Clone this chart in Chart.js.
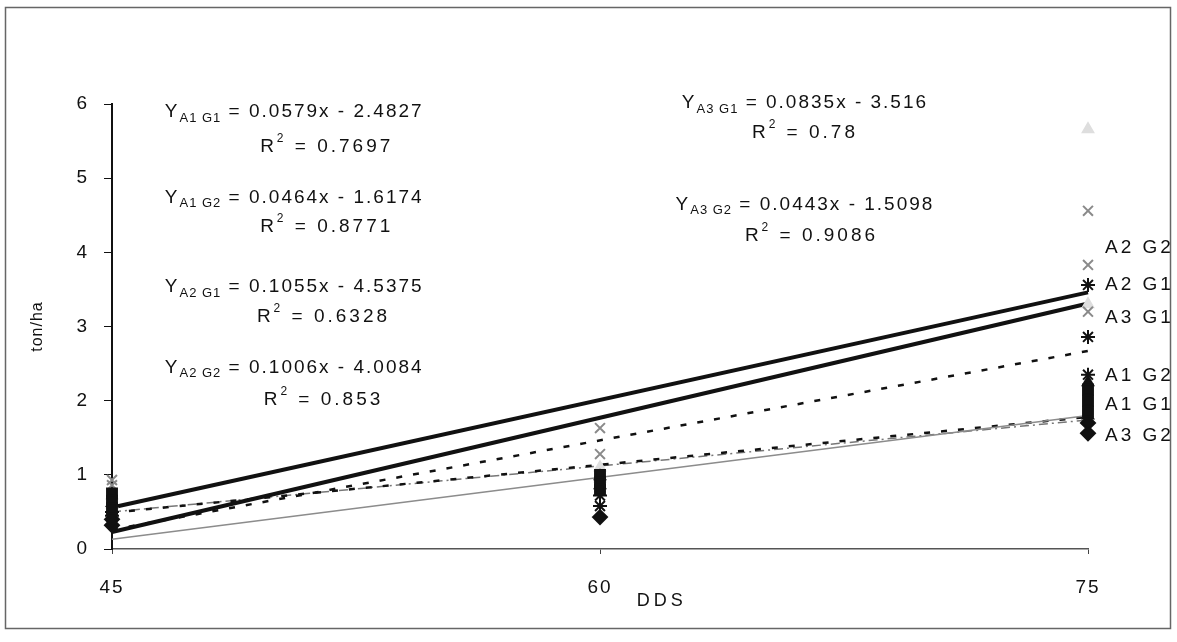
<!DOCTYPE html>
<html>
<head>
<meta charset="utf-8">
<script src="https://cdn.jsdelivr.net/npm/chart.js@4"></script>
<style>
  html, body { margin: 0; padding: 0; background: #fff; }
  #wrap { width: 1177px; height: 642px; }
</style>
</head>
<body>
<div id="wrap"><canvas id="grafico"></canvas></div>
<script>
// dias despues de siembra y rendimientos (ton/ha)
const days = [45, 60, 75];
const xTicks = [45, 60, 75];
const yTicks = [0, 1, 2, 3, 4, 5, 6];

const seriesNames = ['A1 G1', 'A1 G2', 'A2 G1', 'A2 G2', 'A3 G1', 'A3 G2'];

// observaciones por dia (45, 60, 75)
const a1g1 = [[0.75, 0.65, 0.55], [1.00, 0.90, 0.80], [2.15, 2.00, 1.85]];
const a1g2 = [[0.62, 0.50], [0.98, 0.86], [2.25, 1.80]];
const a2g1 = [[0.50, 0.45], [0.72, 0.58], [3.56, 2.86, 2.35]];
const a2g2 = [[0.93, 0.86], [1.63, 1.28], [4.56, 3.83, 3.20]];
const a3g1 = [[0.72, 0.60], [1.10, 0.95], [5.66, 3.30]];
const a3g2 = [[0.32, 0.40], [0.43], [1.56, 1.70]];

// lineas de tendencia: valor en 45 y en 75
const trendStart = [0.13, 0.49, 0.23, 0.56, 0.26, 0.50];
const trendEnd = [1.80, 1.78, 3.31, 3.46, 2.67, 1.74];

// ecuaciones
const slopes = ['0.0579', '0.0464', '0.1055', '0.1006', '0.0835', '0.0443'];
const intercepts = ['2.4827', '1.6174', '4.5375', '4.0084', '3.516', '1.5098'];
const rSquared = ['0.7697', '0.8771', '0.6328', '0.853', '0.78', '0.9086'];

// posicion de los textos (en unidades del grafico)
const eqAnchor = [[50.6, 5.89], [50.6, 4.74], [50.6, 3.53], [50.6, 2.45], [66.3, 6.01], [66.3, 4.64]];
const r2Anchor = [[51.6, 5.42], [51.6, 4.34], [51.5, 3.13], [51.5, 2.01], [66.3, 5.61], [66.5, 4.23]];
const labelY = [1.95, 2.34, 3.56, 4.06, 3.12, 1.53];

const allSeries = [a1g1, a1g2, a2g1, a2g2, a3g1, a3g2];
const markers = ['rect', 'triangle', 'star', 'crossRot', 'triangle', 'rectRot'];
const markerColors = ['#111', '#111', '#111', '#8a8a8a', '#dedede', '#111'];
const markerSizes = [7, 6, 7, 7, 6, 7];

const trendStyles = [
    { color: '#8c8c8c', width: 1.5, dash: [] },
    { color: '#111', width: 2.5, dash: [6, 11] },
    { color: '#111', width: 4, dash: [] },
    { color: '#111', width: 4, dash: [] },
    { color: '#111', width: 2.5, dash: [6, 11] },
    { color: '#777', width: 1.5, dash: [9, 4, 2, 4] }
];

function toPoints(obs) {
    const pts = [];
    obs.forEach(function(vals, i) {
        vals.forEach(function(v) { pts.push({ x: days[i], y: v }); });
    });
    return pts;
}

const datasets = [];
trendStyles.forEach(function(st, i) {
    datasets.push({
        label: 'Tendencia ' + seriesNames[i],
        data: [{ x: days[0], y: trendStart[i] }, { x: days[2], y: trendEnd[i] }],
        showLine: true,
        borderColor: st.color,
        borderWidth: st.width,
        borderDash: st.dash,
        pointRadius: 0,
        clip: false,
        order: 2
    });
});
allSeries.forEach(function(obs, i) {
    datasets.push({
        label: seriesNames[i],
        data: toPoints(obs),
        pointStyle: markers[i],
        pointRadius: markerSizes[i],
        backgroundColor: markerColors[i],
        borderColor: markerColors[i],
        borderWidth: 2,
        showLine: false,
        clip: false,
        order: 1
    });
});

const FONT = '"Liberation Sans", Arial, sans-serif';

function drawEq(ctx, cx, cy, sub, rest) {
    ctx.letterSpacing = '2px';
    ctx.font = '19px ' + FONT;
    const wY = ctx.measureText('Y').width;
    const wRest = ctx.measureText(rest).width;
    ctx.letterSpacing = '1px';
    ctx.font = '13px ' + FONT;
    const wSub = ctx.measureText(sub).width;
    let x = cx - (wY + wSub + wRest) / 2;
    ctx.letterSpacing = '2px';
    ctx.font = '19px ' + FONT;
    ctx.fillText('Y', x, cy);
    x += wY;
    ctx.letterSpacing = '1px';
    ctx.font = '13px ' + FONT;
    ctx.fillText(sub, x, cy + 6);
    x += wSub;
    ctx.letterSpacing = '2px';
    ctx.font = '19px ' + FONT;
    ctx.fillText(rest, x, cy);
}

function drawR2(ctx, cx, cy, val) {
    const rest = ' = ' + val;
    ctx.letterSpacing = '3px';
    ctx.font = '19px ' + FONT;
    const wR = ctx.measureText('R').width;
    const wRest = ctx.measureText(rest).width;
    ctx.font = '12px ' + FONT;
    const w2 = ctx.measureText('2').width;
    let x = cx - (wR + w2 + wRest) / 2;
    ctx.font = '19px ' + FONT;
    ctx.fillText('R', x, cy);
    x += wR;
    ctx.font = '12px ' + FONT;
    ctx.fillText('2', x, cy - 8);
    x += w2;
    ctx.font = '19px ' + FONT;
    ctx.fillText(rest, x, cy);
}

const notas = {
    id: 'notas',
    beforeDraw(chart) {
        const ctx = chart.ctx;
        ctx.save();
        ctx.strokeStyle = '#666';
        ctx.lineWidth = 1.5;
        ctx.strokeRect(5.5, 7.5, 1165, 621);
        ctx.restore();
        // texto espaciado como en el original
        ctx.letterSpacing = '2px';
    },
    afterDraw(chart) {
        const ctx = chart.ctx;
        const xs = chart.scales.x;
        const ys = chart.scales.y;
        ctx.save();
        ctx.fillStyle = '#111';
        ctx.textAlign = 'left';
        ctx.textBaseline = 'middle';
        seriesNames.forEach(function(name, i) {
            const rest = ' = ' + slopes[i] + 'x - ' + intercepts[i];
            drawEq(ctx, xs.getPixelForValue(eqAnchor[i][0]), ys.getPixelForValue(eqAnchor[i][1]), name, rest);
            drawR2(ctx, xs.getPixelForValue(r2Anchor[i][0]), ys.getPixelForValue(r2Anchor[i][1]), rSquared[i]);
            // etiqueta a la derecha
            ctx.letterSpacing = '3px';
            ctx.font = '19px ' + FONT;
            ctx.fillText(name, xs.getPixelForValue(days[2]) + 17, ys.getPixelForValue(labelY[i]));
        });
        // titulos de ejes
        ctx.letterSpacing = '4px';
        ctx.font = '18px ' + FONT;
        ctx.textAlign = 'center';
        ctx.fillText('DDS', xs.getPixelForValue(61.9), chart.chartArea.bottom + 52);
        ctx.translate(38, (chart.chartArea.top + chart.chartArea.bottom) / 2);
        ctx.rotate(-Math.PI / 2);
        ctx.letterSpacing = '1px';
        ctx.font = '16px ' + FONT;
        ctx.fillText('ton/ha', 0, 0);
        ctx.restore();
    }
};

const ctx = document.getElementById('grafico').getContext('2d');
new Chart(ctx, {
    type: 'scatter',
    data: { datasets: datasets },
    options: {
        responsive: true,
        maintainAspectRatio: false,
        animation: false,
        layout: { padding: { left: 0, top: 104, right: 89, bottom: 0 } },
        plugins: {
            legend: { display: false },
            tooltip: { enabled: false }
        },
        scales: {
            x: {
                type: 'linear',
                min: xTicks[0],
                max: xTicks[xTicks.length - 1],
                afterFit: function(s) { s.height = 93; },
                afterBuildTicks: function(s) { s.ticks = xTicks.map(function(v) { return { value: v }; }); },
                grid: { display: true, drawOnChartArea: false, tickLength: 5, color: '#444' },
                border: { color: '#555', width: 1.5 },
                ticks: { color: '#111', font: { family: FONT, size: 19 }, padding: 22, maxRotation: 0 }
            },
            y: {
                min: yTicks[0],
                max: yTicks[yTicks.length - 1],
                afterFit: function(s) { s.width = 112; },
                afterBuildTicks: function(s) { s.ticks = yTicks.map(function(v) { return { value: v }; }); },
                grid: { display: true, drawOnChartArea: false, tickLength: 8, color: '#111' },
                border: { color: '#111', width: 2 },
                ticks: { color: '#111', font: { family: FONT, size: 19 }, padding: 15 }
            }
        }
    },
    plugins: [notas]
});
</script>
</body>
</html>
